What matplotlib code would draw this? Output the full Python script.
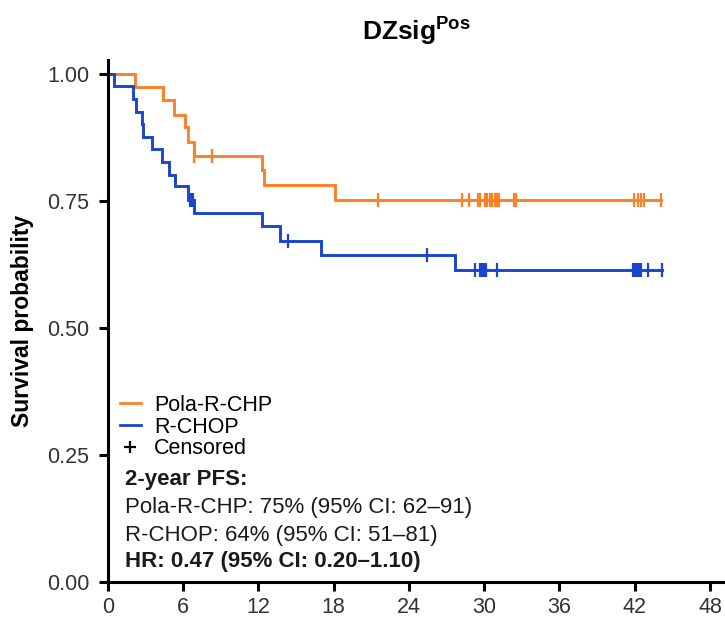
import numpy as np
import matplotlib
matplotlib.use('Agg')
import matplotlib.pyplot as plt
from matplotlib.lines import Line2D

plt.rcParams['font.family'] = ['Liberation Sans', 'DejaVu Sans']
plt.rcParams['mathtext.fontset'] = 'custom'
plt.rcParams['mathtext.rm'] = 'Liberation Sans'
plt.rcParams['mathtext.bf'] = 'Liberation Sans:bold'

# Kaplan-Meier steps (months, survival) and censor times per arm
pola_times = [0, 2.15, 4.36, 5.26, 6.14, 6.40, 6.86, 12.26, 12.44, 18.1]
pola_surv = [1.0, 0.975, 0.948, 0.920, 0.895, 0.867, 0.839, 0.811, 0.782, 0.752]
pola_end = 44.1
pola_cens = [6.86, 8.27, 21.56, 28.2, 28.8, 29.53, 29.66, 30.06, 30.26, 30.46,
             30.66, 30.86, 31.0, 31.2, 32.35, 32.55, 41.97, 42.24, 42.5, 42.77, 44.1]

rchop_times = [0, 0.48, 1.97, 2.21, 2.69, 2.77, 3.48, 4.28, 4.86, 5.34, 6.40,
               6.86, 12.3, 13.7, 17.0, 27.7]
rchop_surv = [1.0, 0.976, 0.950, 0.926, 0.902, 0.876, 0.852, 0.826, 0.802, 0.779,
              0.752, 0.726, 0.700, 0.672, 0.644, 0.614]
rchop_end = 44.15
rchop_cens = [6.5, 6.62, 6.75, 14.38, 25.46, 29.27, 29.66, 29.8, 30.0, 30.15,
              31.0, 41.87, 42.05, 42.2, 42.35, 42.5, 43.06, 44.15]

arms = ['Pola-R-CHP', 'R-CHOP']
colors = ['#ff7f27', '#1a45d1']

pfs_text = ['2-year PFS:',
            'Pola-R-CHP: 75% (95% CI: 62\u201391)',
            'R-CHOP: 64% (95% CI: 51\u201381)',
            'HR: 0.47 (95% CI: 0.20\u20131.10)']


def surv_at(t, times, surv):
    idx = np.searchsorted(times, t, side='right') - 1
    return np.array(surv)[idx]


fig = plt.figure(figsize=(7.25, 6.18), dpi=100)
ax = fig.add_axes([108 / 725, 1 - 582 / 618, 617 / 725, 522 / 618])

for times, surv, end, cens, col in [
        (pola_times, pola_surv, pola_end, pola_cens, colors[0]),
        (rchop_times, rchop_surv, rchop_end, rchop_cens, colors[1])]:
    x = list(times) + [end]
    y = list(surv) + [surv[-1]]
    ax.step(x, y, where='post', color=col, lw=2.1, solid_joinstyle='miter')
    cy = surv_at(np.array(cens), times, surv)
    ax.plot(cens, cy, ls='none', marker='|', ms=10, mew=1.6, color=col)

ax.set_xlim(0, 49.2)
ax.set_ylim(0, 1.0275)
ax.set_xticks(np.arange(0, 49, 6))
ax.set_yticks([0, 0.25, 0.5, 0.75, 1.0])
ax.set_yticklabels(['0.00', '0.25', '0.50', '0.75', '1.00'])

for s in ['top', 'right']:
    ax.spines[s].set_visible(False)
for s in ['left', 'bottom']:
    ax.spines[s].set_linewidth(2.2)
ax.tick_params(axis='both', length=6.5, width=2.2, labelsize=15.5,
               labelcolor='#333333')
ax.tick_params(axis='x', pad=4)
ax.tick_params(axis='y', pad=7)

ax.set_ylabel('Survival probability', fontsize=16.5, fontweight='bold', labelpad=9)
ax.set_title(r'DZsig$^{\mathbf{Pos}}$', fontsize=19, fontweight='bold', pad=15)

handles = [Line2D([], [], color=colors[0], lw=2.0),
           Line2D([], [], color=colors[1], lw=2.0),
           Line2D([], [], ls='none', marker='+', color='black', ms=8, mew=1.6)]
ax.legend(handles, arms + ['Censored'], loc='upper left',
          bbox_to_anchor=(0.005, 0.375), frameon=False, fontsize=15.5,
          handlelength=1.0, handletextpad=0.6, labelspacing=0.03,
          borderaxespad=0)

ys = [0.197, 0.143, 0.0885, 0.0388]
weights = ['bold', 'normal', 'normal', 'bold']
for txt, yy, w in zip(pfs_text, ys, weights):
    ax.text(0.0276, yy, txt, transform=ax.transAxes, fontsize=16,
            fontweight=w, va='center', ha='left', color='#1a1a1a')

fig.savefig('out.png', dpi=100)
